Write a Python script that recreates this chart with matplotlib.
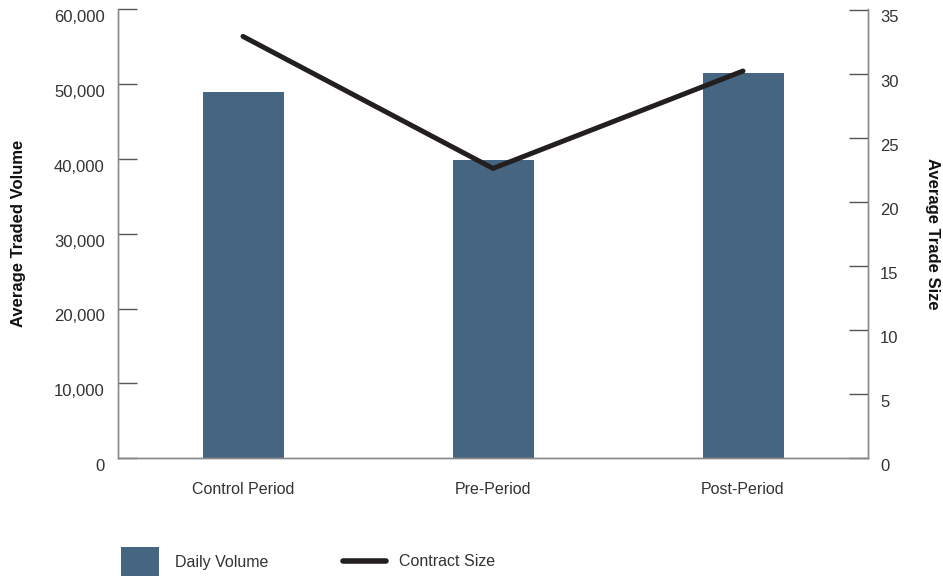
import matplotlib
matplotlib.use("Agg")
import matplotlib.pyplot as plt
from matplotlib.ticker import FuncFormatter
from matplotlib.patches import Patch
from matplotlib.lines import Line2D
from matplotlib.transforms import ScaledTranslation

plt.rcParams['font.family'] = ['Liberation Sans', 'DejaVu Sans']

periods = ['Control Period', 'Pre-Period', 'Post-Period']
daily_volume = [49000, 39800, 51550]
contract_size = [32.9, 22.6, 30.2]

bar_clr = '#466580'
line_clr = '#231f20'
spine_clr = '#8a8a8a'
txt_clr = '#333333'

fig = plt.figure(figsize=(9.43, 5.76), dpi=100)
ax1 = fig.add_axes([118 / 943, 1 - 458 / 576, 750 / 943, 448.5 / 576])
ax2 = ax1.twinx()

x = range(len(periods))
ax1.bar(x, daily_volume, width=0.324, color=bar_clr, zorder=2)
ax2.plot(x, contract_size, color=line_clr, linewidth=3.6,
         solid_capstyle='round', solid_joinstyle='miter', zorder=3)

ax1.set_xlim(-0.5, 2.5)
ax1.set_ylim(0, 60000)
ax2.set_ylim(0, 35)
ax1.set_yticks(range(0, 60001, 10000))
ax2.set_yticks(range(0, 36, 5))
ax1.yaxis.set_major_formatter(FuncFormatter(lambda v, p: f'{int(v):,}'))
ax1.set_xticks(list(x))
ax1.set_xticklabels(periods)

for a in (ax1, ax2):
    for s in a.spines.values():
        s.set_color(spine_clr)
        s.set_linewidth(1.0)
    a.spines['top'].set_visible(False)

ax1.tick_params(axis='y', direction='in', length=14, width=1, color='#555555',
                labelsize=12, labelcolor=txt_clr, pad=9.5)
ax2.tick_params(axis='y', direction='in', length=14, width=1, color='#555555',
                labelsize=12, labelcolor=txt_clr, pad=8.7)
ax1.tick_params(axis='x', length=0, labelsize=11.5, labelcolor=txt_clr, pad=17)

# tick labels sit a little below their ticks in the original
shift = ScaledTranslation(0, -5 / 72, fig.dpi_scale_trans)
for lbl in ax1.get_yticklabels() + ax2.get_yticklabels():
    lbl.set_transform(lbl.get_transform() + shift)

ax1.set_ylabel('Average Traded Volume', fontsize=12, fontweight='bold',
               color='#111111', labelpad=20)
ax2.set_ylabel('Average Trade Size', fontsize=12, fontweight='bold',
               color='#111111', rotation=-90, labelpad=30)

leg1 = fig.legend([Patch(facecolor=bar_clr, edgecolor='none')], ['Daily Volume'],
                  loc='center left', bbox_to_anchor=(121 / 943, 1 - 562 / 576),
                  frameon=False, fontsize=11.5, handlelength=2.4, handleheight=2.5,
                  handletextpad=1.0, borderpad=0, borderaxespad=0,
                  labelcolor=txt_clr)
leg2 = fig.legend([Line2D([0], [0], color=line_clr, linewidth=4, solid_capstyle='round')],
                  ['Contract Size'], loc='center left',
                  bbox_to_anchor=(343 / 943, 1 - 562 / 576), frameon=False,
                  fontsize=11.5, handlelength=2.7, handletextpad=0.8,
                  borderpad=0, borderaxespad=0, labelcolor=txt_clr)

fig.savefig('out.png', dpi=100)
